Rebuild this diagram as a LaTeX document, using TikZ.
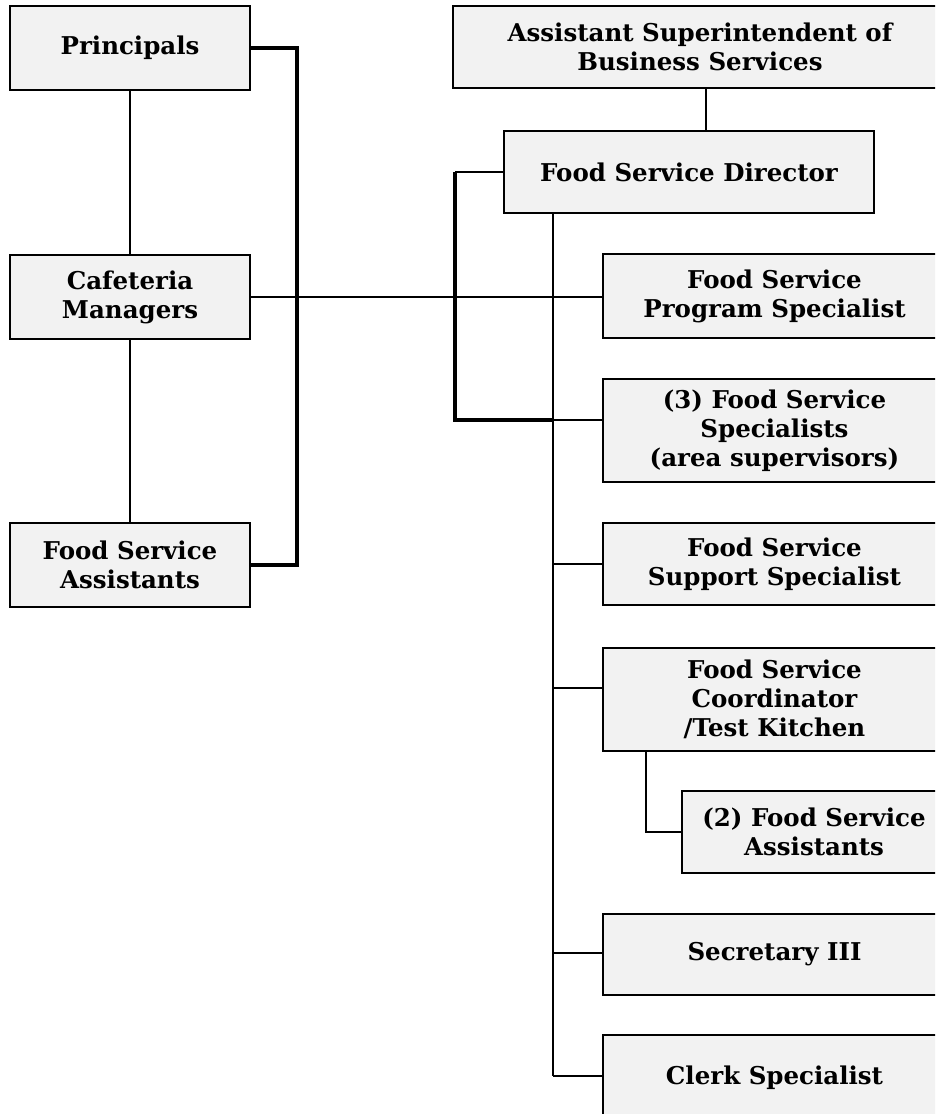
\documentclass[tikz,border=0pt]{standalone}
\usepackage{fontspec}
\setmainfont{DejaVu Serif}
\definecolor{boxfill}{HTML}{F2F2F2}
\begin{document}
\begin{tikzpicture}[x=1pt,y=-1pt,
  box/.style={draw, line width=1.8pt, fill=boxfill, inner sep=0pt, outer sep=0pt,
    align=center, anchor=north west,
    font=\bfseries\fontsize{24.5}{29}\selectfont},
  link/.style={line width=1.6pt},
  busline/.style={line width=2.3pt},
  heavyline/.style={line width=3.2pt, line join=miter}]
\useasboundingbox (0,0) rectangle (935,1114);
\clip (0,0) rectangle (935,1114);

% left column: school-site staff
\node[box, minimum width=240, minimum height=84] (princ) at (10,6) {Principals};
\node[box, minimum width=240, minimum height=84] (cafe) at (10,255) {Cafeteria\\Managers};
\node[box, minimum width=240, minimum height=84] (fsa) at (10,523) {Food Service\\Assistants};

% right column: central office
\node[box, minimum width=494, minimum height=82] (asbs) at (453,6) {Assistant Superintendent of\\Business Services};
\node[box, minimum width=370, minimum height=82] (fsd) at (504,131) {Food Service Director};
\node[box, minimum width=343, minimum height=84] (prog) at (603,254) {Food Service\\Program Specialist};
\node[box, minimum width=343, minimum height=103] (spec) at (603,379) {(3) Food Service\\Specialists\\(area supervisors)};
\node[box, minimum width=343, minimum height=82] (supp) at (603,523) {Food Service\\Support Specialist};
\node[box, minimum width=343, minimum height=103] (coord) at (603,648) {Food Service\\Coordinator\\/Test Kitchen};
\node[box, minimum width=264, minimum height=82] (asst) at (682,791) {(2) Food Service\\Assistants};
\node[box, minimum width=343, minimum height=81] (sec) at (603,914) {Secretary III};
\node[box, minimum width=343, minimum height=86] (clerk) at (603,1035) {Clerk Specialist};

% helper points for the trunks and branches
\coordinate (lbus) at (297,0);
\coordinate (top) at (706,0);
\coordinate (rbus) at (455,0);
\coordinate (trunk) at (553,0);
\coordinate (yspec) at (0,420);
\coordinate (ysupp) at (0,564);
\coordinate (ycoord) at (0,688);
\coordinate (ysec) at (0,953);
\coordinate (yclerk) at (0,1076);
\coordinate (sub) at (646,832);

% left column links
\draw[link] (princ.south) -- (cafe.north);
\draw[link] (cafe.south) -- (fsa.north);
\draw[heavyline] (princ.east) -| (lbus |- fsa.east) -- (fsa.east);
\draw[busline] (cafe.east) -- (cafe.east -| prog.west);

% director links
\draw[link] (top |- asbs.south) -- (top |- fsd.north);
\draw[link] (fsd.west) -- (rbus |- fsd.west);
\draw[heavyline] (rbus |- fsd.west) -- (rbus |- yspec) -- (trunk |- yspec);
\draw[link] (trunk |- fsd.south) -- (trunk |- yclerk);

% branches to the staff boxes
\draw[link] (trunk |- yspec) -- (spec.west |- yspec);
\draw[link] (trunk |- ysupp) -- (supp.west |- ysupp);
\draw[link] (trunk |- ycoord) -- (coord.west |- ycoord);
\draw[link] (trunk |- ysec) -- (sec.west |- ysec);
\draw[link] (trunk |- yclerk) -- (clerk.west |- yclerk);
\draw[link] (sub |- coord.south) -- (sub) -- (asst.west |- sub);
\end{tikzpicture}
\end{document}
